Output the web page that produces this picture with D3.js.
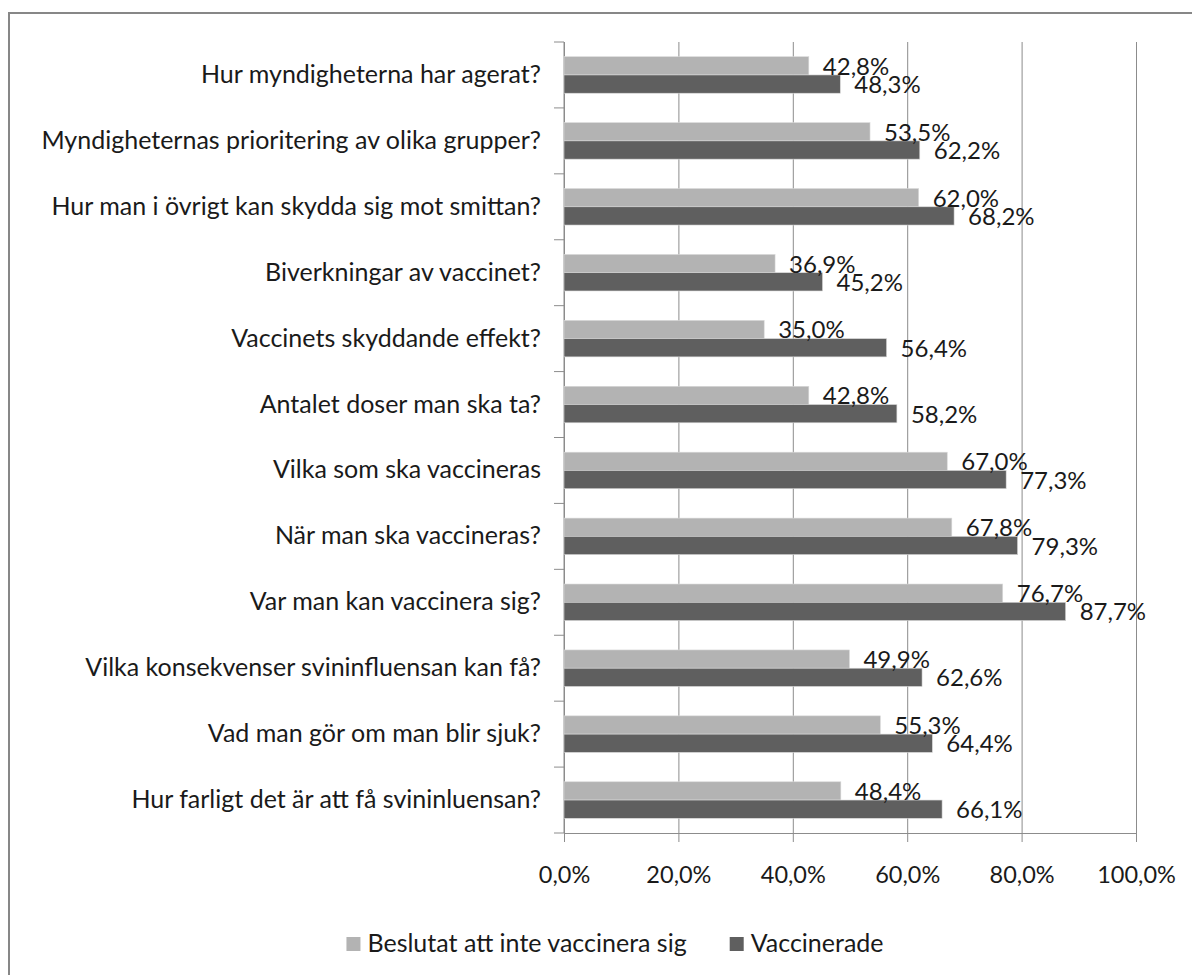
<!DOCTYPE html>
<html>
<head>
<meta charset="utf-8">
<script src="https://cdn.jsdelivr.net/npm/d3@7"></script>
<style>
  body { margin: 0; background: #fff; }
  svg text { font-family: Lato, "Open Sans", sans-serif; fill: #1a1a1a; }
</style>
</head>
<body>
<svg id="chart" width="1192" height="975"></svg>
<script>
const categories = [
  "Hur myndigheterna har agerat?",
  "Myndigheternas prioritering av olika grupper?",
  "Hur man i övrigt kan skydda sig mot smittan?",
  "Biverkningar av vaccinet?",
  "Vaccinets skyddande effekt?",
  "Antalet doser man ska ta?",
  "Vilka som ska vaccineras",
  "När man ska vaccineras?",
  "Var man kan vaccinera sig?",
  "Vilka konsekvenser svininfluensan kan få?",
  "Vad man gör om man blir sjuk?",
  "Hur farligt det är att få svininluensan?"
];
const seriesNames = ["Beslutat att inte vaccinera sig", "Vaccinerade"];
const declined = [42.8, 53.5, 62.0, 36.9, 35.0, 42.8, 67.0, 67.8, 76.7, 49.9, 55.3, 48.4];
const vaccinated = [48.3, 62.2, 68.2, 45.2, 56.4, 58.2, 77.3, 79.3, 87.7, 62.6, 64.4, 66.1];
const xTicks = [0, 20, 40, 60, 80, 100];
const colors = ["#b3b3b3", "#5f5f5f"];

const svg = d3.select("#chart");
const fmt = (v) => d3.format(".1f")(v).replace(".", ",") + "%";

// outer frame (right/bottom edges fall outside the picture)
svg.append("rect")
  .attr("x", 9).attr("y", 13)
  .attr("width", 1300).attr("height", 1100)
  .attr("fill", "none").attr("stroke", "#878787").attr("stroke-width", 2);

const plotL = 564, plotR = 1136, plotT = 42, plotB = 833;
const x = d3.scaleLinear().domain([0, 100]).range([plotL, plotR]);
const y = d3.scaleBand().domain(categories).range([plotT, plotB]);
const bandH = y.bandwidth();
const inner = d3.scaleBand().domain([0, 1]).range([bandH * 0.223, bandH * 0.777]);

// gridlines + x ticks
const xAxis = svg.append("g")
  .attr("transform", `translate(0,${plotB})`)
  .call(d3.axisBottom(x).tickValues(xTicks)
    .tickSize(-(plotB - plotT)).tickSizeOuter(0).tickPadding(0)
    .tickFormat((d) => fmt(d)));
xAxis.select(".domain").attr("stroke", "#8c8c8c");
xAxis.selectAll(".tick line").attr("stroke", "#8c8c8c").attr("y2", -(plotB - plotT)).attr("y1", 9);
xAxis.selectAll(".tick text")
  .attr("font-size", 23.5).attr("y", 50).attr("dy", 0)
  .style("font-family", "Lato, sans-serif").attr("fill", "#1a1a1a");

// y axis with boundary ticks
svg.append("line")
  .attr("x1", plotL).attr("x2", plotL).attr("y1", plotT).attr("y2", plotB)
  .attr("stroke", "#8c8c8c");
svg.append("g").selectAll("line")
  .data(d3.range(categories.length + 1))
  .join("line")
  .attr("x1", plotL - 10).attr("x2", plotL)
  .attr("y1", (i) => plotT + i * bandH).attr("y2", (i) => plotT + i * bandH)
  .attr("stroke", "#8c8c8c");

// category labels
svg.append("g").selectAll("text")
  .data(categories)
  .join("text")
  .attr("x", 541)
  .attr("y", (d) => y(d) + bandH / 2 + 8)
  .attr("text-anchor", "end")
  .attr("font-size", 25)
  .text((d) => d);

// bars
const seriesData = [declined, vaccinated];
seriesData.forEach((vals, s) => {
  const g = svg.append("g");
  g.selectAll("rect")
    .data(vals)
    .join("rect")
    .attr("x", x(0))
    .attr("y", (d, i) => y(categories[i]) + inner(s))
    .attr("width", (d) => x(d) - x(0))
    .attr("height", inner.bandwidth())
    .attr("fill", colors[s])
    .attr("stroke", "#d9d9d9")
    .attr("stroke-width", 0.6);
});

// value labels
seriesData.forEach((vals, s) => {
  svg.append("g").selectAll("text")
    .data(vals)
    .join("text")
    .attr("x", (d) => x(d) + 14)
    .attr("y", (d, i) => y(categories[i]) + inner(s) + inner.bandwidth() / 2 + 9)
    .attr("font-size", 24)
    .text((d) => fmt(d));
});

// legend
const legend = svg.append("g");
const items = legend.selectAll("g")
  .data(seriesNames)
  .join("g");
items.append("rect")
  .attr("width", 14).attr("height", 14)
  .attr("y", 937)
  .attr("fill", (d, i) => colors[i]);
items.append("text")
  .attr("x", 21).attr("y", 952)
  .attr("font-size", 25)
  .text((d) => d);
const widths = [];
items.each(function () {
  widths.push(d3.select(this).select("text").node().getComputedTextLength() + 21);
});
const gap = 43;
const total = d3.sum(widths) + gap;
const start = 615 - total / 2;
items.attr("transform", (d, i) => {
  const tx = start + (i === 0 ? 0 : widths[0] + gap);
  return `translate(${tx},0)`;
});
</script>
</body>
</html>
